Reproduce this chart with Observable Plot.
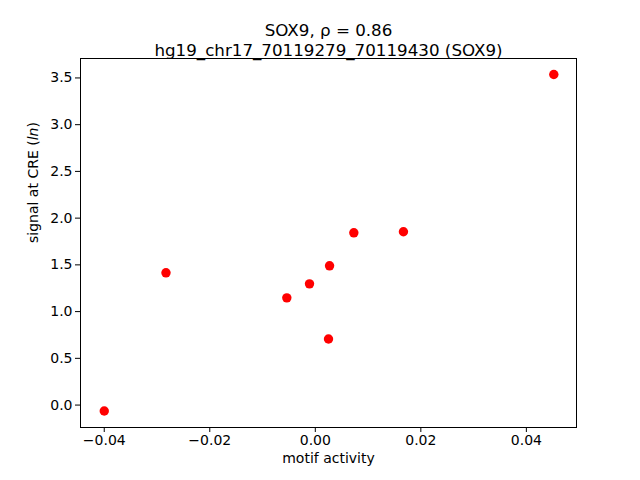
<!DOCTYPE html>
<html><head><meta charset="utf-8">
<script src="https://cdn.jsdelivr.net/npm/d3@7"></script>
<script src="https://cdn.jsdelivr.net/npm/@observablehq/plot@0.6"></script>
<style>
body{margin:0;background:#fff}
svg{font-family:"DejaVu Sans",sans-serif;}
</style>
</head><body><div id="chart"></div>
<script>
const motifActivity = [-0.0400, -0.0283, -0.0054, -0.0011, 0.0027, 0.0025, 0.0073, 0.0167, 0.0452];
const signalAtCRE   = [-0.064, 1.415, 1.147, 1.297, 1.490, 0.707, 1.843, 1.854, 3.537];
const xTicks = [-0.04, -0.02, 0, 0.02, 0.04];
const yTicks = [0, 0.5, 1, 1.5, 2, 2.5, 3, 3.5];
const titleLine1 = "SOX9, ρ = 0.86";
const titleLine2 = "hg19_chr17_70119279_70119430 (SOX9)";
const xLabel = "motif activity";
const yLabel = "signal at CRE (ln)";

const points = motifActivity.map((x, i) => ({x, y: signalAtCRE[i]}));

const chart = Plot.plot({
  width: 640,
  height: 480,
  marginLeft: 80,
  marginRight: 64,
  marginTop: 58,
  marginBottom: 53,
  style: {fontFamily: "DejaVu Sans", background: "#fff", color: "#000"},
  x: {domain: [-0.0445, 0.0495]},
  y: {domain: [-0.24, 3.708]},
  marks: [
    Plot.frame({stroke: "#000", strokeWidth: 1}),
    Plot.axisX(xTicks, {tickSize: 5, tickPadding: 3, fontSize: 14, label: null,
      tickFormat: d => d3.format(".2f")(d)}),
    Plot.axisY(yTicks, {tickSize: 5, tickPadding: 3, fontSize: 14, label: null,
      tickFormat: d => d3.format(".1f")(d)}),
    Plot.dot(points, {x: "x", y: "y", r: 4.7, fill: "#ff0000", stroke: null}),
    Plot.text([xLabel], {frameAnchor: "bottom", dy: 35, fontSize: 14, fill: "#000"}),
    Plot.text([yLabel], {frameAnchor: "left", dx: -47, rotate: -90, fontSize: 14, fill: "#000"}),
    Plot.text([titleLine1], {frameAnchor: "top", dy: -34, fontSize: 16.7, fill: "#000"}),
    Plot.text([titleLine2], {frameAnchor: "top", dy: -14, fontSize: 16.7, fill: "#000"})
  ]
});

d3.select(chart).selectAll("text").each(function() {
  if (this.textContent === yLabel) {
    const t = d3.select(this);
    t.text(null);
    t.append("tspan").text("signal at CRE (");
    t.append("tspan").attr("font-style", "italic").text("ln");
    t.append("tspan").text(")");
  }
});

document.getElementById("chart").append(chart);
</script>
</body></html>
